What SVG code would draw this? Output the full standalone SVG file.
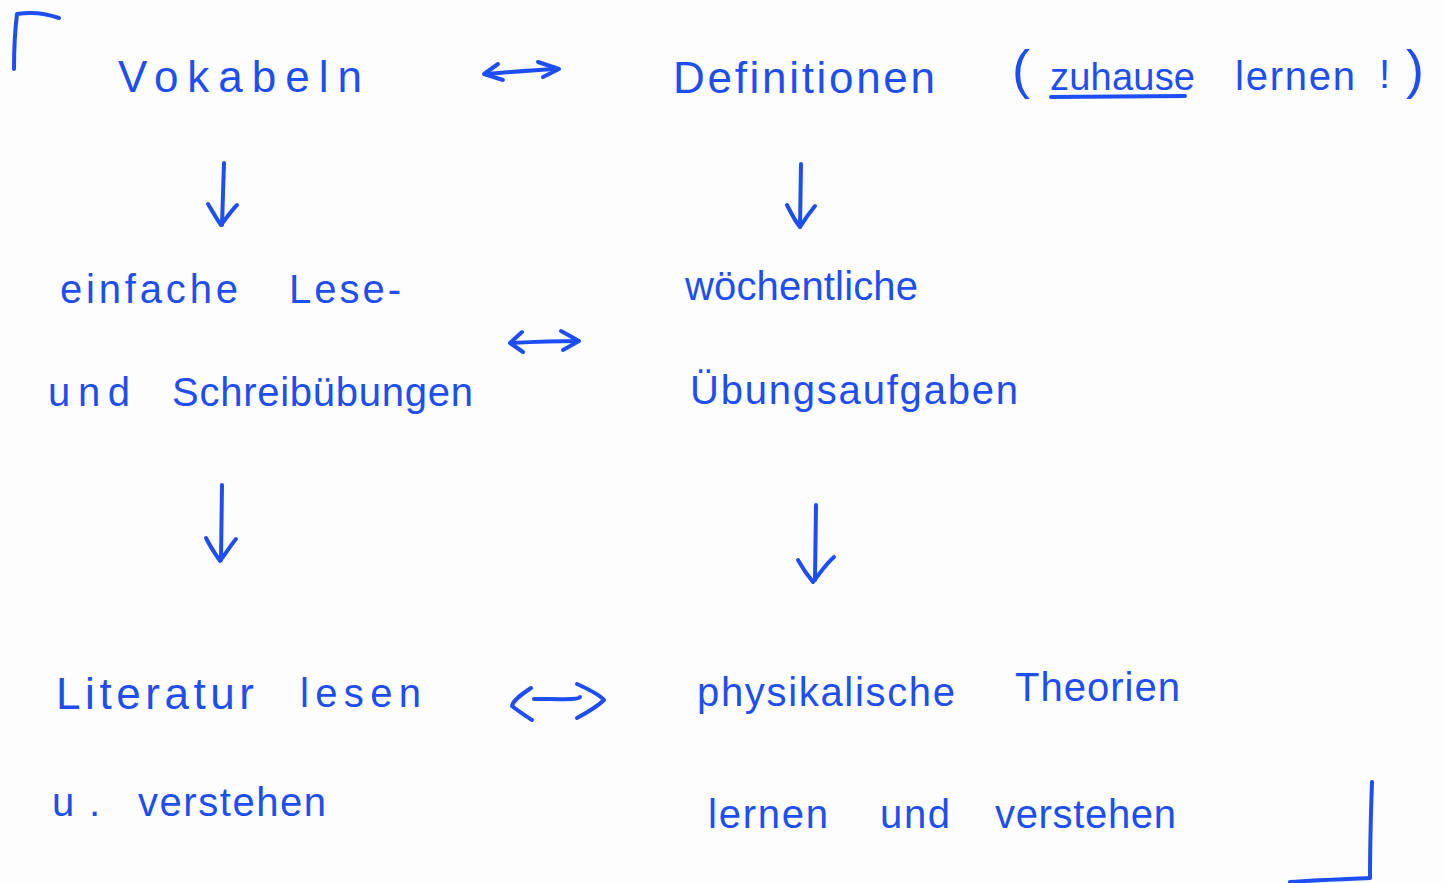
<svg xmlns="http://www.w3.org/2000/svg" width="1444" height="883" viewBox="0 0 1444 883">
  <defs>
    <style>
      .ink { fill: #1d4ef4; font-family: "Liberation Sans", "DejaVu Sans", sans-serif; font-size: 40px; }
      .big { font-size: 44px; }
      .small { font-size: 38px; }
      .paren { font-size: 54px; }
      .stroke { fill: none; stroke: #1d4ef4; stroke-width: 4; stroke-linecap: round; stroke-linejoin: round; }
    </style>
  </defs>
  <rect width="1444" height="883" fill="#fdfdfe"/>

  <!-- corner marks framing the sketch -->
  <g id="frame">
    <path class="stroke" d="M14,69 C14,50 15,30 17,14 C30,12 45,13 59,18"/>
    <path class="stroke" d="M1372,782 C1371,810 1370,845 1370,878 C1345,879 1315,880 1290,882"/>
  </g>

  <!-- top row -->
  <g id="vokabeln">
    <text class="ink big" x="118" y="92" textLength="244" lengthAdjust="spacing">Vokabeln</text>
  </g>
  <g id="definitionen">
    <text class="ink big" x="673" y="93" textLength="262" lengthAdjust="spacing">Definitionen</text>
    <text class="ink paren" x="1012" y="88">(</text>
    <text class="ink small" x="1050" y="90" textLength="145" lengthAdjust="spacing">zuhause</text>
    <path class="stroke" d="M1051,97 L1185,96" stroke-width="3"/>
    <text class="ink" x="1235" y="90" textLength="120" lengthAdjust="spacing">lernen</text>
    <text class="ink" x="1379" y="88">!</text>
    <text class="ink paren" x="1406" y="88">)</text>
  </g>

  <!-- middle row -->
  <g id="leseuebungen">
    <text class="ink" x="60" y="303" textLength="178" lengthAdjust="spacing">einfache</text>
    <text class="ink" x="289" y="303" textLength="112" lengthAdjust="spacing">Lese-</text>
    <text class="ink" x="48" y="406" textLength="82" lengthAdjust="spacing">und</text>
    <text class="ink" x="172" y="406" textLength="301" lengthAdjust="spacing">Schreibübungen</text>
  </g>
  <g id="uebungsaufgaben">
    <text class="ink" x="685" y="300" textLength="233" lengthAdjust="spacing">wöchentliche</text>
    <text class="ink" x="690" y="404" textLength="328" lengthAdjust="spacing">Übungsaufgaben</text>
  </g>

  <!-- bottom row -->
  <g id="literatur">
    <text class="ink big" x="56" y="709" textLength="198" lengthAdjust="spacing">Literatur</text>
    <text class="ink" x="300" y="707" textLength="121" lengthAdjust="spacing">lesen</text>
    <text class="ink" x="52" y="816" textLength="48" lengthAdjust="spacing">u.</text>
    <text class="ink" x="138" y="816" textLength="188" lengthAdjust="spacing">verstehen</text>
  </g>
  <g id="theorien">
    <text class="ink" x="697" y="706" textLength="258" lengthAdjust="spacing">physikalische</text>
    <text class="ink" x="1015" y="701" textLength="165" lengthAdjust="spacing">Theorien</text>
    <text class="ink" x="708" y="828" textLength="120" lengthAdjust="spacing">lernen</text>
    <text class="ink" x="880" y="828" textLength="70" lengthAdjust="spacing">und</text>
    <text class="ink" x="995" y="828" textLength="181" lengthAdjust="spacing">verstehen</text>
  </g>

  <!-- connectors -->
  <g id="connectors">
    <!-- two-way links between the columns -->
    <path class="stroke" d="M486,74 C510,72 535,70 556,69"/>
    <path class="stroke" d="M498,64 L484,74 L503,80"/>
    <path class="stroke" d="M538,62 L559,69 L543,77"/>

    <path class="stroke" d="M511,343 C530,342 555,341 578,341"/>
    <path class="stroke" d="M522,332 L510,343 L523,352"/>
    <path class="stroke" d="M561,331 L579,341 L563,350"/>

    <path class="stroke" d="M534,699 C560,699 580,700 580,697"/>
    <path class="stroke" d="M531,688 C522,694 513,700 512,706 C518,711 526,716 532,720"/>
    <path class="stroke" d="M577,684 C588,689 600,695 604,700 C598,706 588,712 577,718"/>

    <!-- downward links -->
    <path class="stroke" d="M224,163 L222,225"/>
    <path class="stroke" d="M208,204 C213,212 217,220 221,225 C227,217 232,210 237,205"/>
    <path class="stroke" d="M801,164 L800,227"/>
    <path class="stroke" d="M787,205 C791,213 795,221 800,227 C805,219 810,212 815,206"/>

    <path class="stroke" d="M222,485 L221,560"/>
    <path class="stroke" d="M206,538 C211,548 216,555 220,561 C226,553 231,545 236,539"/>
    <path class="stroke" d="M816,505 L815,580"/>
    <path class="stroke" d="M798,560 C803,569 808,576 813,582 C820,573 826,564 834,557"/>
  </g>
</svg>
